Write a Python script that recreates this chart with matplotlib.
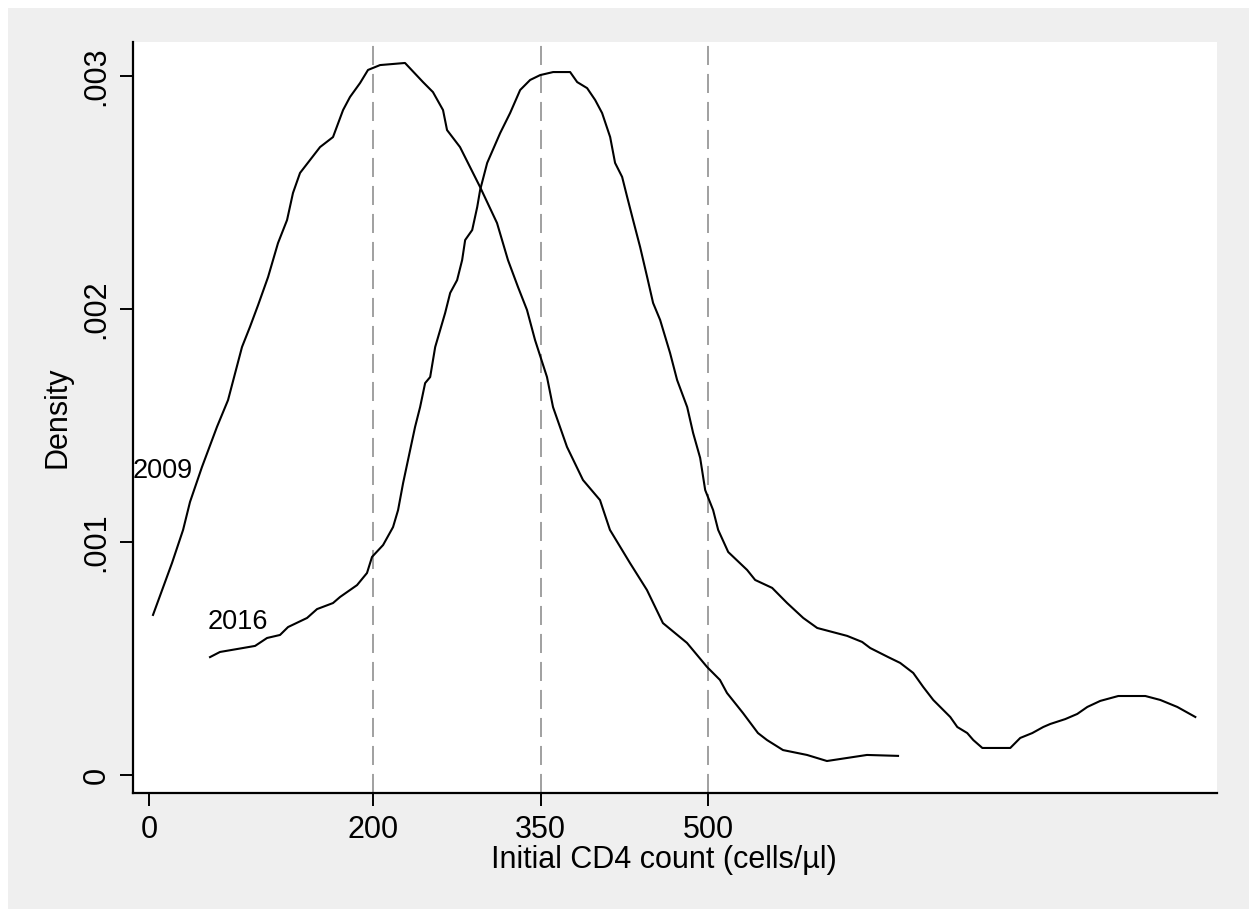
import matplotlib
matplotlib.use("Agg")
import matplotlib.pyplot as plt
from matplotlib.patches import Rectangle

plt.rcParams['font.family'] = ['Liberation Sans', 'DejaVu Sans']

## kernel density curves (x = CD4 count, y = density) ##
cd4_2009 = [3.2, 20.2, 30.1, 36.3, 47.0, 60.4, 70.3, 82.8, 89.9, 97.2, 106.1, 115.0,
            123.1, 128.4, 134.7, 152.6, 164.2, 173.2, 179.4, 188.4, 195.5, 206.3, 228.6,
            244.7, 253.6, 262.6, 266.2, 277.8, 286.8, 295.7, 310.9, 320.7, 329.7, 337.7,
            344.9, 355.6, 361.0, 373.5, 387.8, 403.0, 411.9, 429.8, 445.0, 459.3, 480.8,
            498.7, 510.3, 516.6, 530.9, 544.3, 552.4, 566.7, 588.2, 606.0, 623.9, 641.8,
            669.6]
dens_2009 = [0.687, 0.910, 1.052, 1.172, 1.322, 1.494, 1.609, 1.837, 1.923, 2.017, 2.137,
             2.283, 2.382, 2.498, 2.584, 2.695, 2.738, 2.854, 2.910, 2.970, 3.026, 3.047,
             3.056, 2.974, 2.931, 2.854, 2.768, 2.695, 2.609, 2.524, 2.369, 2.210, 2.094,
             1.996, 1.867, 1.708, 1.579, 1.408, 1.266, 1.180, 1.052, 0.910, 0.794, 0.652,
             0.567, 0.464, 0.408, 0.352, 0.266, 0.180, 0.150, 0.107, 0.086, 0.060, 0.073,
             0.086, 0.082]

cd4_2016 = [54.2, 63.1, 83.7, 94.5, 105.2, 116.8, 124.0, 141.0, 149.9, 164.2, 170.5, 185.7,
            194.6, 199.1, 209.0, 217.9, 222.4, 226.9, 233.2, 237.6, 242.1, 246.6, 251.1,
            255.6, 264.5, 269.0, 275.2, 279.7, 282.4, 288.7, 293.2, 295.8, 302.1, 313.7,
            322.6, 331.6, 340.5, 349.5, 361.1, 376.3, 382.6, 391.5, 398.7, 404.9, 412.1,
            416.5, 422.8, 427.3, 432.6, 438.9, 445.2, 450.5, 456.8, 465.7, 472.0, 481.0,
            486.3, 492.6, 497.1, 504.2, 508.7, 517.7, 534.6, 541.8, 557.0, 570.4, 584.8,
            597.3, 610.7, 624.1, 637.5, 644.7, 660.8, 671.5, 683.2, 692.1, 701.1, 716.3,
            722.6, 731.5, 736.9, 745.0, 770.0, 778.9, 789.7, 799.5, 805.8, 819.2, 829.9,
            838.9, 850.5, 866.6, 890.8, 904.2, 919.4, 935.5]
dens_2016 = [0.506, 0.528, 0.545, 0.554, 0.588, 0.601, 0.635, 0.674, 0.712, 0.738, 0.764,
             0.815, 0.867, 0.936, 0.987, 1.064, 1.137, 1.253, 1.395, 1.494, 1.579, 1.682,
             1.708, 1.837, 1.983, 2.069, 2.124, 2.210, 2.296, 2.339, 2.438, 2.511, 2.627,
             2.755, 2.841, 2.940, 2.983, 3.004, 3.017, 3.017, 2.974, 2.948, 2.897, 2.841,
             2.738, 2.627, 2.567, 2.481, 2.382, 2.266, 2.137, 2.026, 1.953, 1.811, 1.695,
             1.579, 1.468, 1.361, 1.223, 1.137, 1.052, 0.957, 0.880, 0.837, 0.803, 0.738,
             0.674, 0.631, 0.614, 0.597, 0.571, 0.545, 0.506, 0.481, 0.438, 0.378, 0.322,
             0.249, 0.206, 0.180, 0.150, 0.116, 0.116, 0.159, 0.180, 0.206, 0.219, 0.240,
             0.262, 0.292, 0.318, 0.339, 0.339, 0.322, 0.292, 0.249]

thresholds = [200, 350, 500]
x_ticks = [0, 200, 350, 500]
y_ticks = [0, 0.001, 0.002, 0.003]
y_ticklabels = ['0', '.001', '.002', '.003']

dens_2009 = [v / 1000 for v in dens_2009]
dens_2016 = [v / 1000 for v in dens_2016]

fig = plt.figure(figsize=(12.49, 9.09), dpi=100)
fig.patch.set_facecolor('white')
# grey Stata-like panel behind the plot
fig.patches.append(Rectangle((8 / 1249, 0), 1, 1 - 8 / 909, transform=fig.transFigure,
                             facecolor='#EFEFEF', edgecolor='none', zorder=-1))

ax = fig.add_axes([133 / 1249, 116 / 909, 1084 / 1249, 751 / 909])
ax.set_facecolor('white')

for t in thresholds:
    ax.axvline(t, color='#A0A0A0', lw=1.4, linestyle=(0, (9.8, 4.6)), zorder=1)

ax.plot(cd4_2009, dens_2009, color='black', lw=1.5, zorder=2)
ax.plot(cd4_2016, dens_2016, color='black', lw=1.5, zorder=2)

ax.text(-14.7, 0.001305, '2009', fontsize=19.5, ha='left', va='center')
ax.text(52.4, 0.000657, '2016', fontsize=19.5, ha='left', va='center')

ax.set_xlim(-14.7, 954.9)
ax.set_ylim(-0.0000773, 0.003146)

ax.set_xticks(x_ticks)
ax.set_yticks(y_ticks)
ax.set_yticklabels(y_ticklabels, rotation=90, va='center')
ax.tick_params(axis='both', direction='out', length=9.5, width=1.4, labelsize=22, colors='black')
ax.tick_params(axis='x', pad=6)
ax.tick_params(axis='y', pad=6)

for s in ['top', 'right']:
    ax.spines[s].set_visible(False)
for s in ['left', 'bottom']:
    ax.spines[s].set_linewidth(1.6)

ax.set_xlabel('Initial CD4 count (cells/µl)', fontsize=22, labelpad=0)
ax.xaxis.set_label_coords(0.49, -0.069)
ax.set_ylabel('Density', fontsize=22)
ax.yaxis.set_label_coords(-0.0554, 0.5)

plt.savefig('out.png', dpi=100)
